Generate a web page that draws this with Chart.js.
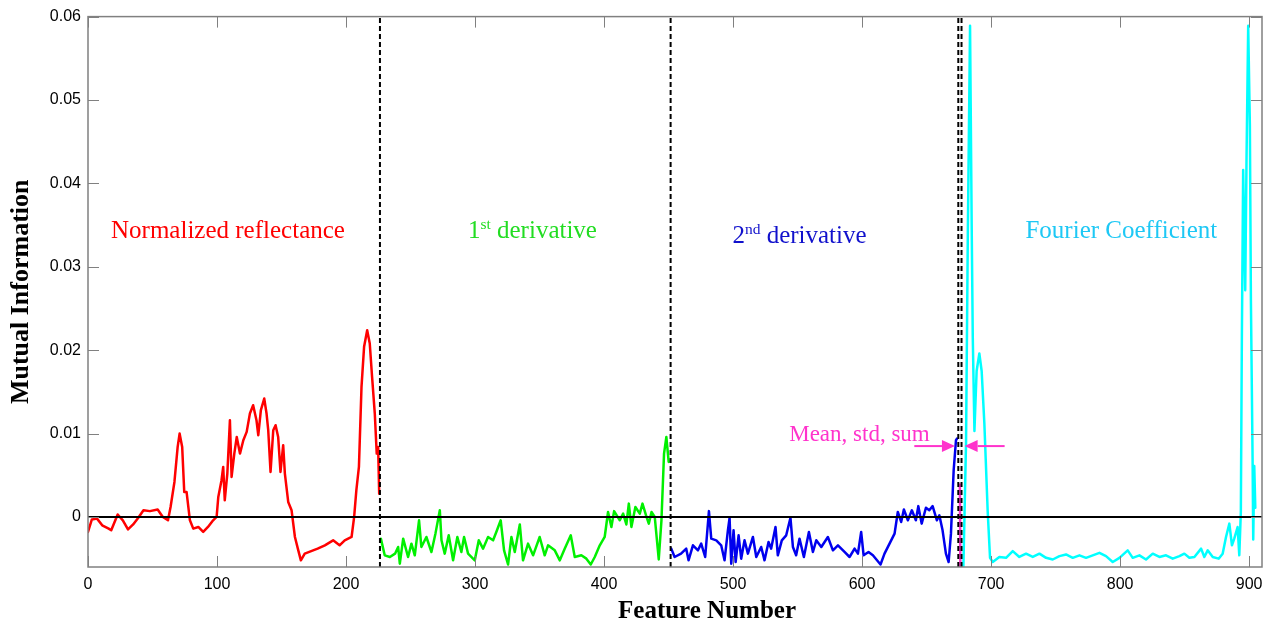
<!DOCTYPE html>
<html><head><meta charset="utf-8">
<script src="https://cdn.jsdelivr.net/npm/chart.js@4/dist/chart.umd.min.js"></script>
<style>html,body{margin:0;padding:0;background:#fff;}#wrap{width:1271px;height:625px;}</style>
</head><body><div id="wrap"><canvas id="c" width="1271" height="625"></canvas></div>
<script>
// ---- data ----
const xTicks = [0,100,200,300,400,500,600,700,800,900];
const yTicks = [0,0.01,0.02,0.03,0.04,0.05,0.06];
const yTickLabels = ['0','0.01','0.02','0.03','0.04','0.05','0.06'];
const boundaries = [226.3, 451.6, 674.6, 677.1];

const redFeature = [0,3,7,11,16,18,23,27,31,35,39,43,48,54,58,62,64,67,69.5,71,73,74.6,76.4,79,81.6,85.5,89.3,93,97,99.7,101,103.5,104.8,106,108,110,111.3,113.4,115.3,117.8,120.4,123,125.5,128,130.6,132,134,136.6,138.4,139.7,141.5,143.6,145.4,147.4,149.2,151.3,152.6,155.2,157.8,160.4,163,165,168,173,178,183.6,190,195,199,204.3,206.3,208,210,212,214,216.4,218.4,220.2,222.3,223.8,224.9,225.7];
const redMI = [-0.0018,-0.0003,-0.0002,-0.001,-0.0014,-0.0016,0.0003,-0.0004,-0.0015,-0.0009,-0.0001,0.0008,0.0007,0.0009,0,-0.0004,0.0012,0.0042,0.0084,0.010,0.0084,0.003,0.003,-0.0004,-0.0014,-0.0012,-0.0018,-0.0012,-0.0004,0,0.0024,0.0044,0.006,0.002,0.0052,0.0116,0.0048,0.0076,0.0096,0.0076,0.0092,0.0102,0.0124,0.0134,0.0116,0.0098,0.0128,0.0142,0.0124,0.0104,0.0054,0.0104,0.011,0.0096,0.0054,0.0086,0.0052,0.0018,0.0008,-0.0024,-0.004,-0.0052,-0.0044,-0.0041,-0.0038,-0.0034,-0.0028,-0.0034,-0.0028,-0.0024,0,0.0032,0.006,0.0156,0.0204,0.0224,0.0208,0.0168,0.0124,0.0076,0.0084,0.0028];

const greenFeature = [227,230,234,238,240.4,241.7,244.3,248.1,250.7,253.3,256.6,258.4,262.3,266.2,269.3,272.7,274,276.5,279.6,283,286.3,289.4,291.5,294.6,299.8,302.9,306.2,310.1,314,316.5,319.9,322.5,325.6,328.2,330.8,334.7,337.2,341.1,345,350.1,354,356.6,361.8,365.7,369.5,374.2,377.3,382.4,386.3,389.7,392.8,396.7,400.5,403.1,405.7,407.8,412.2,414.8,417.3,419.2,421.2,424.3,427.7,429.8,432.9,434.7,436.8,439.3,442.4,444.5,446.5,448.3,450.1];
const greenMI = [-0.0026,-0.0046,-0.0048,-0.0044,-0.0036,-0.0056,-0.0026,-0.0048,-0.0032,-0.0046,-0.0004,-0.0036,-0.0024,-0.0042,-0.002,0.0008,-0.0028,-0.0044,-0.0022,-0.0052,-0.0024,-0.0042,-0.0024,-0.0044,-0.0052,-0.0028,-0.0038,-0.0024,-0.0028,-0.0018,-0.0004,-0.004,-0.0057,-0.0024,-0.0042,-0.0009,-0.0052,-0.0032,-0.0046,-0.0024,-0.0046,-0.0034,-0.004,-0.0052,-0.0038,-0.0022,-0.0048,-0.0046,-0.005,-0.0057,-0.0048,-0.0034,-0.0024,0.0006,-0.0012,0.0007,-0.0004,0.0004,-0.0009,0.0016,-0.0012,0.0012,0.0004,0.0016,0,-0.0008,0.0006,0,-0.0051,-0.0004,0.0076,0.0096,0.0066];

const blueFeature = [452.1,454.7,459.7,463.7,465.5,468.9,472.8,475.3,478.4,481.3,483.1,487,490.8,493.4,496,497.3,498.6,500.4,502,504.3,506.3,508.9,511.5,515.4,518,521.8,524.4,527.5,529.5,532.9,534.7,537.8,541.2,544.5,546.4,548.9,551.5,554.9,558.8,561.9,564.5,568.4,573.5,577.4,581.3,586.4,590.3,594.2,596.8,599.3,601.2,605,608.4,614.3,617.4,621.3,625.2,627.7,630.3,632.4,635.5,638.6,641.7,643.6,646.2,649.5,652.1,654.7,658,659.9,662.4,665,667.1,668.9,671,672.8,673.6];
const blueMI = [-0.0038,-0.0048,-0.0044,-0.0038,-0.0052,-0.0034,-0.004,-0.0032,-0.0048,0.0007,-0.0026,-0.0028,-0.0034,-0.0052,-0.0016,-0.0001,-0.0056,-0.0016,-0.0054,-0.0022,-0.005,-0.0028,-0.0044,-0.0024,-0.0048,-0.0036,-0.0052,-0.003,-0.0038,-0.0012,-0.0046,-0.0028,-0.0022,-0.0001,-0.0036,-0.0046,-0.0026,-0.0048,-0.0018,-0.0042,-0.0028,-0.0036,-0.0024,-0.004,-0.0034,-0.0042,-0.0048,-0.0038,-0.0044,-0.0018,-0.0046,-0.0042,-0.0046,-0.0057,-0.0044,-0.0032,-0.002,0.0006,-0.0006,0.0009,-0.0004,0.0008,-0.0004,0.0013,-0.0008,0.0011,0.0008,0.0013,-0.0004,0.0002,-0.0016,-0.0044,-0.0054,-0.002,0.0056,0.0092,0.0094];

const magentaFeature = [675.8, 676.2];
const magentaMI = [0.0040, -0.0070];

const cyanFeature = [678.5,680.6,682,683.7,685,685.8,687.1,688.8,690.9,692.7,694.8,697.4,699.2,701.3,706.4,711.6,716.8,721.9,727.1,732.3,737.5,742.6,747.8,753,758.1,763.3,768.5,773.6,778.8,784,789.1,794.3,799.5,805.9,809.8,815,820.1,825.3,830.5,835.6,840.8,846,849.8,853.7,857.6,862.8,865.3,867.9,871.8,876.4,879.5,882.1,884.7,886.7,888.5,891.1,892.4,893.6,894.4,895.4,897,898,899.3,900.6,901.4,902.7,903.2,904,904.8];
const cyanMI = [-0.0062,0.009,0.0344,0.0589,0.0344,0.0217,0.0103,0.0175,0.0196,0.0175,0.0112,0.0006,-0.0049,-0.0054,-0.0048,-0.0049,-0.0041,-0.0048,-0.0044,-0.0048,-0.0044,-0.0049,-0.0051,-0.0047,-0.0045,-0.0049,-0.0046,-0.0049,-0.0046,-0.0043,-0.0047,-0.0054,-0.0049,-0.004,-0.0049,-0.0046,-0.0051,-0.0044,-0.0048,-0.0046,-0.005,-0.0047,-0.0044,-0.0049,-0.0048,-0.0038,-0.0048,-0.004,-0.0048,-0.005,-0.0044,-0.0024,-0.0008,-0.0034,-0.0026,-0.0012,-0.0046,0.0006,0.0217,0.0416,0.0272,0.0428,0.0589,0.047,0.026,0.007,-0.0027,0.0061,0.0011];

const X_MIN = 0, X_MAX = 910, Y_MIN = -0.006, Y_MAX = 0.06;

// ---- build datasets ----
const pts = (xs, ys) => xs.map((x, i) => ({x, y: ys[i]}));
const series = (data, color, order) => ({data, borderColor: color, borderWidth: 2.5, pointRadius: 0, fill: false, tension: 0, order,
  borderJoinStyle: 'round', borderCapStyle: 'round'});
const datasets = [
  Object.assign(series(pts([X_MIN, X_MAX], [0, 0]), '#000000', 0), {borderWidth: 2, borderCapStyle: 'butt'}),
  ...boundaries.map(b => Object.assign(series(pts([b, b], [Y_MIN, Y_MAX]), '#000000', 1), {borderWidth: 2, borderDash: [5, 3], borderCapStyle: 'butt'})),
  series(pts(redFeature, redMI), '#ff0000', 5),
  series(pts(greenFeature, greenMI), '#00f000', 5),
  series(pts(blueFeature, blueMI), '#0000ee', 5),
  Object.assign(series(pts(magentaFeature, magentaMI), '#ff33cc', 2), {clip: 0, borderCapStyle: 'butt'}),
  series(pts(cyanFeature, cyanMI), '#00ffff', 5)
];

const SERIF = '"Liberation Serif", "Times New Roman", serif';
const SANS = '"Liberation Sans", Arial, sans-serif';

function drawSup(ctx, parts, cx, cy, size, color, weight) {
  ctx.save();
  ctx.fillStyle = color; ctx.textBaseline = 'alphabetic'; ctx.textAlign = 'left';
  const w0 = weight ? weight + ' ' : '';
  let total = 0;
  const widths = parts.map(([t, s]) => { ctx.font = w0 + (s ? size * 0.62 : size) + 'px ' + SERIF; const w = ctx.measureText(t).width; total += w; return w; });
  let x = cx - total / 2;
  parts.forEach(([t, s], i) => {
    ctx.font = w0 + (s ? size * 0.62 : size) + 'px ' + SERIF;
    ctx.fillText(t, x, s ? cy - size * 0.38 : cy);
    x += widths[i];
  });
  ctx.restore();
}
function arrow(ctx, x1, y1, x2, y2, color) {
  ctx.save();
  ctx.strokeStyle = color; ctx.fillStyle = color; ctx.lineWidth = 2;
  const dir = Math.sign(x2 - x1), head = 13, hw = 6;
  ctx.beginPath(); ctx.moveTo(x1, y1); ctx.lineTo(x2 - dir * head, y2); ctx.stroke();
  ctx.beginPath(); ctx.moveTo(x2, y2); ctx.lineTo(x2 - dir * head, y2 - hw); ctx.lineTo(x2 - dir * head, y2 + hw); ctx.closePath(); ctx.fill();
  ctx.restore();
}

const decor = {
  id: 'decor',
  afterDatasetsDraw(chart) {
    const {ctx, chartArea: {left, right, top, bottom}, scales: {x, y}} = chart;
    ctx.save();
    ctx.strokeStyle = '#808080'; ctx.lineWidth = 1.5;
    ctx.strokeRect(left, top, right - left, bottom - top);
    const tl = 11;
    ctx.beginPath();
    xTicks.forEach(v => { const px = Math.round(x.getPixelForValue(v)) + 0.5; ctx.moveTo(px, bottom); ctx.lineTo(px, bottom - tl); ctx.moveTo(px, top); ctx.lineTo(px, top + tl); });
    yTicks.forEach(v => { const py = Math.round(y.getPixelForValue(v)) + 0.5; ctx.moveTo(left, py); ctx.lineTo(left + tl, py); ctx.moveTo(right, py); ctx.lineTo(right - tl, py); });
    ctx.lineWidth = 1; ctx.stroke();
    ctx.restore();

    const fs = 25;
    const ly = y.getPixelForValue(0.0344) + 8;
    drawSup(ctx, [['Normalized reflectance', false]], x.getPixelForValue(108.5), ly, fs, '#ff0000');
    drawSup(ctx, [['1', false], ['st', true], [' derivative', false]], x.getPixelForValue(344.5), ly, fs, '#22dd22');
    drawSup(ctx, [['2', false], ['nd', true], [' derivative', false]], x.getPixelForValue(551.5), ly + 5, fs, '#1111cc');
    drawSup(ctx, [['Fourier Coefficient', false]], x.getPixelForValue(801), ly, fs, '#1ec8f5');
    drawSup(ctx, [['Mean, std, sum', false]], x.getPixelForValue(598), y.getPixelForValue(0.0101) + 8, 23, '#ff33cc');
    const ay = y.getPixelForValue(0.0085);
    arrow(ctx, x.getPixelForValue(640.5), ay, x.getPixelForValue(672), ay, '#ff33cc');
    arrow(ctx, x.getPixelForValue(710.5), ay, x.getPixelForValue(679.5), ay, '#ff33cc');
    // x-axis title (centred as in the reference, slightly right of the plot centre)
    drawSup(ctx, [['Feature Number', false]], 707, 618, 25, '#000', 'bold');
  }
};

new Chart(document.getElementById('c'), {
  type: 'line',
  data: {datasets},
  plugins: [decor],
  options: {
    responsive: false, animation: false, devicePixelRatio: 1,
    layout: {padding: {left: 0, right: 9, top: 15, bottom: 0}},
    plugins: {legend: {display: false}, tooltip: {enabled: false}},
    scales: {
      x: {
        type: 'linear', min: X_MIN, max: X_MAX,
        afterBuildTicks: s => { s.ticks = xTicks.map(v => ({value: v})); },
        afterFit: s => { s.height = 58; },
        grid: {display: false, drawTicks: false}, border: {display: false},
        ticks: {color: '#000', padding: 8, maxRotation: 0, font: {family: SANS, size: 16}, callback: v => String(v)},
        title: {display: false}
      },
      y: {
        type: 'linear', min: Y_MIN, max: Y_MAX,
        afterBuildTicks: s => { s.ticks = yTicks.map(v => ({value: v})); },
        afterFit: s => { s.width = 88; },
        grid: {display: false, drawTicks: false}, border: {display: false},
        ticks: {color: '#000', padding: 7, font: {family: SANS, size: 16}, callback: (v) => { const i = yTicks.findIndex(t => Math.abs(t - v) < 1e-9); return i >= 0 ? yTickLabels[i] : ''; }},
        title: {display: true, text: 'Mutual Information', color: '#000', font: {family: SERIF, size: 26, weight: 'bold'}, padding: {top: 6, bottom: 0}}
      }
    }
  }
});
</script></body></html>
